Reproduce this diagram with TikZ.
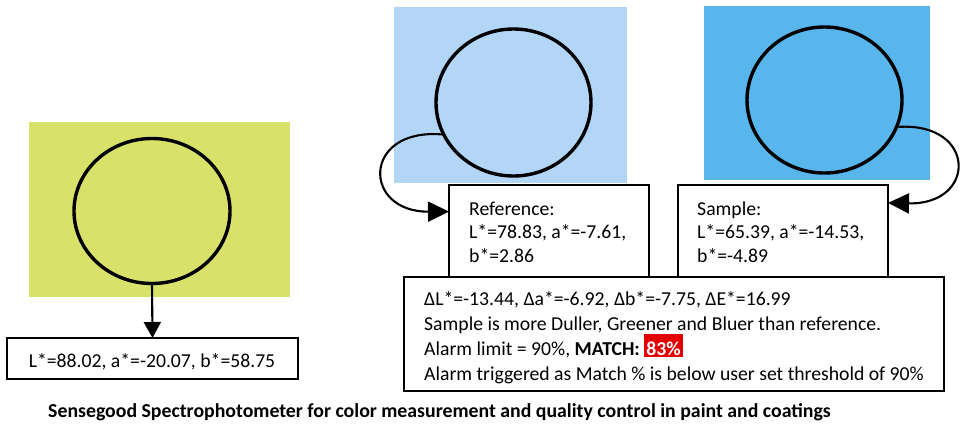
\documentclass[tikz,border=0pt]{standalone}
\usepackage{fontspec}
\setmainfont{Carlito}
\usetikzlibrary{shapes.geometric,arrows.meta}
\definecolor{yellowpatch}{RGB}{216,226,106}
\definecolor{refblue}{RGB}{180,214,246}
\definecolor{sampleblue}{RGB}{88,182,236}
\definecolor{matchred}{RGB}{226,0,0}
\begin{document}
\begin{tikzpicture}[x=1pt,y=-1pt,
  ring/.style={draw, ellipse, line width=3.4pt, inner sep=0pt},
  databox/.style={draw, line width=1.9pt, fill=white, rectangle, inner sep=0pt, outer sep=0pt},
  txt/.style={font=\fontsize{19.7}{23.5}\selectfont, inner sep=0pt},
  bigtxt/.style={font=\fontsize{19.7}{25}\selectfont, inner sep=0pt, anchor=base west},
  conn/.style={line width=2.1pt, -{Triangle[length=16pt,width=17pt]}},
  bentconn/.style={line width=2.1pt, -{Triangle[length=21pt,width=20pt]}}]
\useasboundingbox (0,0) rectangle (960,426);
% colour patches
\fill[yellowpatch] (29,122) rectangle (290,297);
\fill[refblue] (394,7) rectangle (627,183);
\fill[sampleblue] (704,6) rectangle (930,180);
% measuring circles
\node[ring, minimum width=156pt, minimum height=145pt] (c1) at (152,211) {};
\node[ring, minimum width=155pt, minimum height=147pt] (c2) at (513.5,102.5) {};
\node[ring, minimum width=155pt, minimum height=146pt] (c3) at (824.5,100) {};
% boxes
\node[databox, anchor=north west, minimum width=291pt, minimum height=41pt] (valbox) at (7,338) {};
\node[databox, anchor=north west, minimum width=200pt, minimum height=92pt] (refbox) at (449,185) {};
\node[databox, anchor=north west, minimum width=210pt, minimum height=92pt] (samplebox) at (678,185) {};
\node[databox, anchor=north west, minimum width=540pt, minimum height=114pt] (diffbox) at (404,277) {};
% connectors
\draw[conn] (c1.south) -- (valbox.north);
\draw[bentconn] (c2.204) .. controls (362,128) and (362,212) .. (refbox.169);
\draw[bentconn] (c3.340) .. controls (977,122) and (977,205) .. (samplebox.15);
% texts
\node[txt, anchor=base] (valtxt) at (152,367) {L*=88.02, a*=-20.07, b*=58.75};
\node[txt, anchor=base west] (reft1) at (469,215) {Reference:};
\node[txt, anchor=base west] (reft2) at (469,238.5) {L*=78.83, a*=-7.61,};
\node[txt, anchor=base west] (reft3) at (469,262) {b*=2.86};
\node[txt, anchor=base west] (samt1) at (697,215) {Sample:};
\node[txt, anchor=base west] (samt2) at (697,238.5) {L*=65.39, a*=-14.53,};
\node[txt, anchor=base west] (samt3) at (697,262) {b*=-4.89};
\node[bigtxt] (d1) at (424,305) {ΔL*=-13.44, Δa*=-6.92, Δb*=-7.75, ΔE*=16.99};
\node[bigtxt] (d2) at (424,330) {Sample is more Duller, Greener and Bluer than reference.};
\node[bigtxt] (d3) at (424,355) {Alarm limit = 90\%, \textbf{MATCH:} {\setlength{\fboxsep}{0pt}\colorbox{matchred}{\rule[-2pt]{0pt}{23pt}\hspace{2pt}\textcolor{white}{\textbf{83\%}}\hspace{2pt}}}};
\node[bigtxt] (d4) at (424,380) {Alarm triggered as Match \% is below user set threshold of 90\%};
\node[font=\bfseries\fontsize{19.8}{23}\selectfont, inner sep=0pt, anchor=base west] (title) at (48,417) {Sensegood Spectrophotometer for color measurement and quality control in paint and coatings};
\end{tikzpicture}
\end{document}
